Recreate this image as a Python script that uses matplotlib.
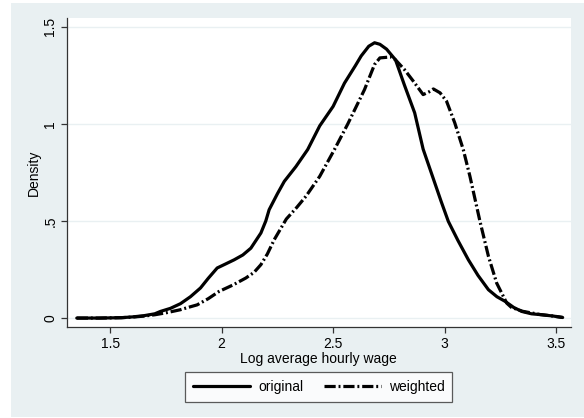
import matplotlib
matplotlib.use("Agg")
import matplotlib.pyplot as plt
from matplotlib.patches import Rectangle

# kernel density estimates
orig_x = [1.35, 1.45, 1.55, 1.60, 1.65, 1.70, 1.725, 1.77, 1.815, 1.86, 1.905,
          1.94, 1.98, 2.02, 2.056, 2.095, 2.131, 2.176, 2.198, 2.213, 2.25, 2.281,
          2.333, 2.386, 2.44, 2.50, 2.551, 2.60, 2.626, 2.66, 2.686, 2.71, 2.74,
          2.78, 2.82, 2.866, 2.904, 2.949, 2.985, 3.017, 3.06, 3.107, 3.15, 3.197,
          3.235, 3.272, 3.31, 3.347, 3.39, 3.437, 3.49, 3.53]
orig_y = [0.0, 0.0, 0.002, 0.006, 0.012, 0.022, 0.034, 0.05, 0.074, 0.11, 0.155,
          0.205, 0.258, 0.28, 0.30, 0.325, 0.36, 0.438, 0.50, 0.558, 0.64, 0.704,
          0.78, 0.868, 0.99, 1.09, 1.21, 1.30, 1.35, 1.40, 1.418, 1.41, 1.385,
          1.33, 1.20, 1.057, 0.87, 0.72, 0.60, 0.498, 0.40, 0.30, 0.22, 0.146,
          0.11, 0.086, 0.055, 0.034, 0.022, 0.017, 0.01, 0.003]

wgt_x = [1.35, 1.45, 1.55, 1.60, 1.65, 1.70, 1.75, 1.815, 1.85, 1.89, 1.94,
         1.988, 2.05, 2.108, 2.145, 2.176, 2.205, 2.236, 2.29, 2.337, 2.378,
         2.44, 2.506, 2.566, 2.641, 2.686, 2.71, 2.76, 2.78, 2.82, 2.86, 2.904,
         2.93, 2.95, 2.98, 3.009, 3.046, 3.084, 3.114, 3.159, 3.197, 3.234,
         3.279, 3.30, 3.35, 3.43, 3.49, 3.53]
wgt_y = [0.0, 0.0, 0.002, 0.005, 0.01, 0.017, 0.027, 0.043, 0.055, 0.068, 0.10,
         0.137, 0.17, 0.206, 0.235, 0.275, 0.33, 0.404, 0.51, 0.57, 0.627,
         0.73, 0.868, 1.0, 1.177, 1.306, 1.34, 1.345, 1.33, 1.28, 1.22, 1.151,
         1.165, 1.18, 1.16, 1.117, 1.005, 0.868, 0.73, 0.498, 0.318, 0.18,
         0.077, 0.055, 0.035, 0.018, 0.01, 0.003]

x_ticks = [1.5, 2, 2.5, 3, 3.5]
x_labels = ["1.5", "2", "2.5", "3", "3.5"]
y_ticks = [0, 0.5, 1, 1.5]
y_labels = ["0", ".5", "1", "1.5"]

bg = "#e9f0f2"
plt.rcParams["font.family"] = ["Liberation Sans", "DejaVu Sans"]

fig = plt.figure(figsize=(5.84, 4.18), dpi=100, facecolor="white")
# graph region (leaves a thin white strip on the left like the source image)
fig.patches.append(Rectangle((11 / 584, 1 / 418), 1 - 11 / 584, 1 - 4 / 418,
                             transform=fig.transFigure, facecolor=bg,
                             edgecolor="none", zorder=-10))

ax = fig.add_axes([0.1147, 0.2177, 0.8625, 0.739])
ax.set_facecolor("white")

ax.plot(orig_x, orig_y, color="black", lw=2.3, label="original",
        solid_joinstyle="round", solid_capstyle="round")
ax.plot(wgt_x, wgt_y, color="black", lw=2.3, label="weighted",
        linestyle=(0, (3.5, 0.9, 0.6, 0.9)))

ax.set_xlim(1.306, 3.566)
ax.set_ylim(-0.046, 1.545)
ax.set_xticks(x_ticks)
ax.set_xticklabels(x_labels)
ax.set_yticks(y_ticks)
ax.set_yticklabels(y_labels, rotation=90, va="center")

ax.grid(axis="y", color=bg, lw=1.0)
ax.set_axisbelow(True)
for side in ["top", "right"]:
    ax.spines[side].set_visible(False)
for side in ["left", "bottom"]:
    ax.spines[side].set_color("#333333")
    ax.spines[side].set_linewidth(0.9)
ax.tick_params(direction="out", length=4, width=0.9, color="#333333",
               labelsize=10, pad=3)

ax.set_xlabel("Log average hourly wage", fontsize=10, labelpad=1)
ax.set_ylabel("Density", fontsize=10, labelpad=2)

leg = fig.legend(loc="center", bbox_to_anchor=(0.546, 0.074), ncol=2,
                 fontsize=10, frameon=True, fancybox=False, handlelength=4.1,
                 columnspacing=1.45, borderpad=0.55, handletextpad=0.6)
leg.get_frame().set_edgecolor("#333333")
leg.get_frame().set_linewidth(0.9)

fig.savefig("out.png", dpi=100, facecolor="white")
